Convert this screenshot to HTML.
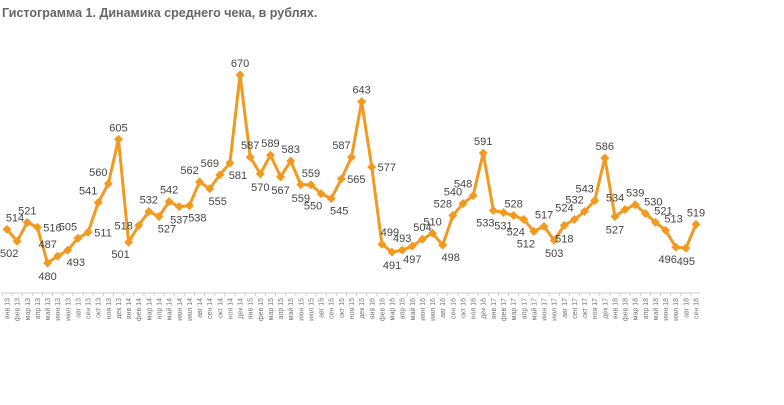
<!DOCTYPE html>
<html><head><meta charset="utf-8"><style>
body{margin:0;background:#fff;width:784px;height:405px;overflow:hidden}
svg{display:block;font-family:"Liberation Sans","DejaVu Sans",sans-serif}
</style></head><body>
<svg id="c" width="784" height="405">
<text x="2" y="17" font-size="12.5" font-weight="bold" fill="#666">Гистограмма 1. Динамика среднего чека, в рублях.</text>
<line x1="2" y1="293" x2="700" y2="293" stroke="#ccc" stroke-width="1"/>
<g id="ticks"></g><g id="line"></g><g id="labels"></g>
</svg>
<script>
const months=["янв","фев","мар","апр","май","июн","июл","авг","сен","окт","ноя","дек"];
const years=["13","14","15","16","17","18"];
const values=[514,502,521,516,480,487,493,505,511,541,560,605,
501,518,532,527,542,537,538,562,555,569,581,670,
587,570,589,567,583,559,559,550,545,565,587,643,
577,499,491,493,497,504,510,498,528,540,548,591,
533,531,528,524,512,517,503,518,524,532,543,586,
527,534,539,530,521,513,496,495,519];
const placement=["ar","bl","a","r","b","al","br","al","r","al","al","a",
"bl","l","a","br","a","b","br","al","br","al","br","a",
"a","b","a","b","a","b","a","bl","br","r","al","a",
"r","ar","b","a","b","a","a","br","al","al","al","a",
"bl","b","a","bl","bl","a","b","b","al","al","al","a",
"b","al","a","ar","ar","ar","bl","b","a"];
const categories=values.map((v,i)=>months[i%12]+" "+years[Math.floor(i/12)]);
const NS="http://www.w3.org/2000/svg";
const x0=7,x1=696;
function xs(i){return x0+(x1-x0)*i/(values.length-1);}
function ys(v){return 263-(v-480)*0.99;}
const off={a:[0,-8],b:[0,17],l:[-15,4],r:[15,4],al:[-10,-8],ar:[8,-8],bl:[-8,16],br:[8,16]};
const tg=document.getElementById('ticks'),lg=document.getElementById('line'),lb=document.getElementById('labels');
categories.forEach((c,i)=>{
 const t=document.createElementNS(NS,'line');
 t.setAttribute('x1',xs(i)-5);t.setAttribute('x2',xs(i)-5);t.setAttribute('y1',293);t.setAttribute('y2',296);
 t.setAttribute('stroke','#ccc');
 
 
 tg.appendChild(t);
 const tl=document.createElementNS(NS,'text');
 tl.setAttribute('transform','translate('+(xs(i)+2.5)+',298) rotate(-90)');
 tl.setAttribute('text-anchor','end');tl.setAttribute('font-size','7');tl.setAttribute('fill','#777');
 tl.textContent=c;
 
 
 tg.appendChild(tl);
});
const p=document.createElementNS(NS,'polyline');
p.setAttribute('points',values.map((v,i)=>xs(i)+','+ys(v)).join(' '));
p.setAttribute('fill','none');p.setAttribute('stroke','#f29a1f');p.setAttribute('stroke-width','3');p.setAttribute('stroke-linejoin','round');


lg.appendChild(p);
values.forEach((v,i)=>{
 const x=xs(i),y=ys(v);
 const m=document.createElementNS(NS,'polygon');
 m.setAttribute('points',[x,y-4.5,x+4.5,y,x,y+4.5,x-4.5,y].join(' '));
 m.setAttribute('fill','#f29a1f');
 
 
 lg.appendChild(m);
 const o=off[placement[i]]||off.a;
 const t=document.createElementNS(NS,'text');
 t.setAttribute('x',x+o[0]);t.setAttribute('y',y+o[1]);
 t.setAttribute('text-anchor','middle');t.setAttribute('font-size','11');t.setAttribute('fill','#444');
 t.textContent=v;
 
 
 lb.appendChild(t);
});
</script>
</body></html>
